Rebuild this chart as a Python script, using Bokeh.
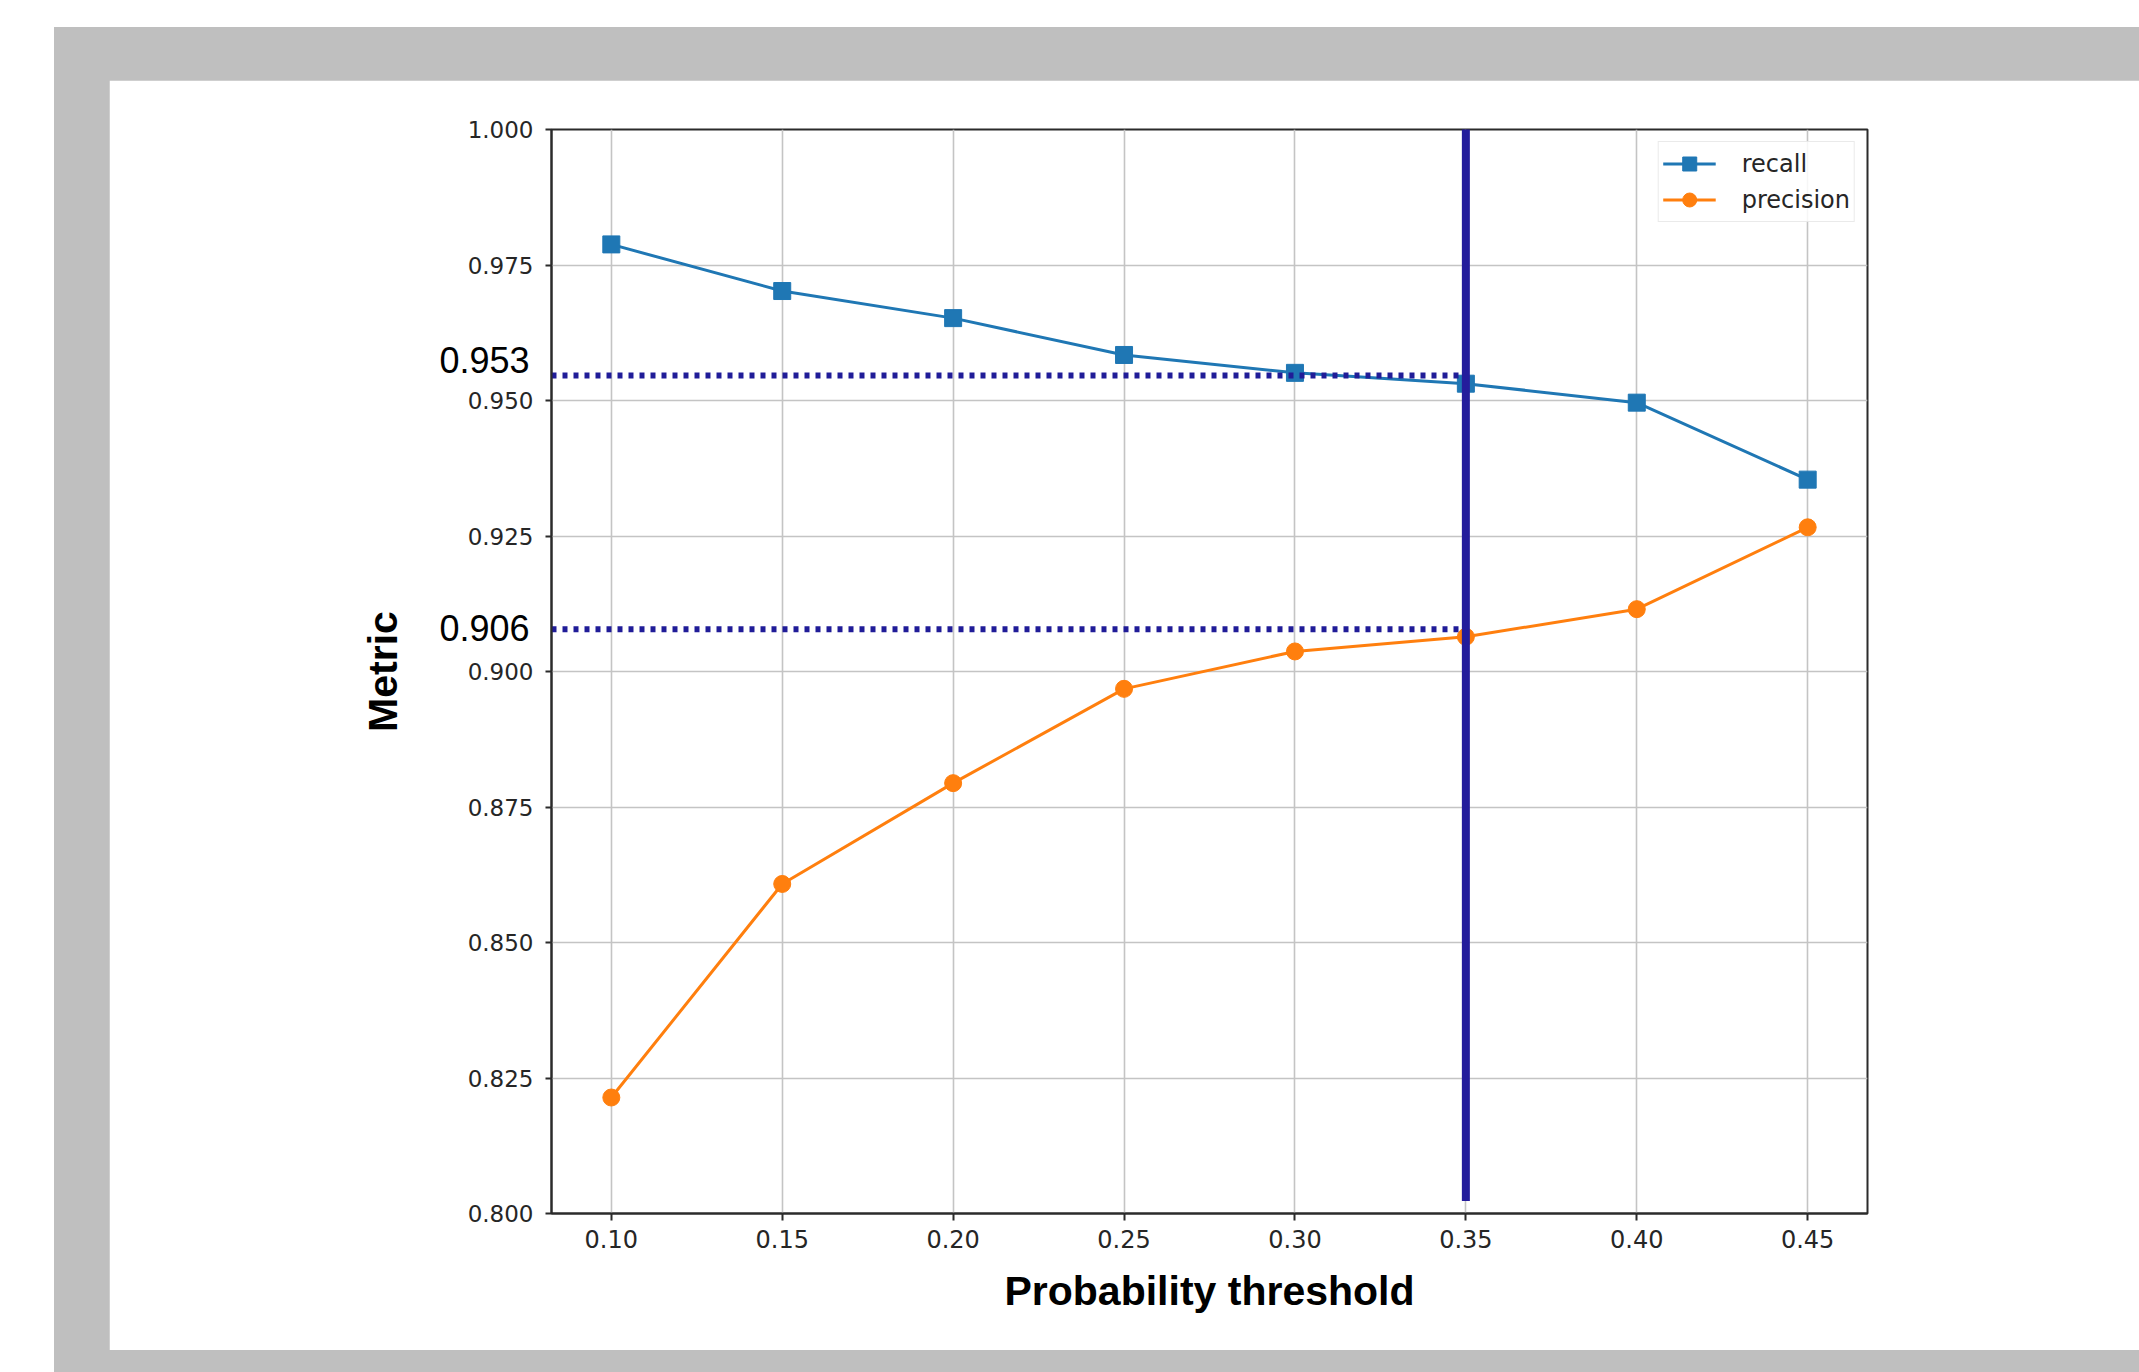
from bokeh.plotting import figure
from bokeh.models import (Range1d, FixedTicker, NumeralTickFormatter, LinearAxis, Arrow, Column)
from bokeh.embed import file_html
from bokeh.resources import INLINE

# ---------------- data ----------------
thresholds = [0.10, 0.15, 0.20, 0.25, 0.30, 0.35, 0.40, 0.45]
recall = [0.9788, 0.9702, 0.9652, 0.9584, 0.9551, 0.9531, 0.9496, 0.9354]
precision = [0.8214, 0.8608, 0.8794, 0.8968, 0.9037, 0.9064, 0.9115, 0.9266]

x_ticks = [0.10, 0.15, 0.20, 0.25, 0.30, 0.35, 0.40, 0.45]
y_ticks = [0.800, 0.825, 0.850, 0.875, 0.900, 0.925, 0.950, 0.975, 1.000]

chosen_threshold = 0.35
ref_levels = [0.9546, 0.9078]          # dotted guide lines
ref_labels = ["0.953", "0.906"]        # annotated values
ref_label_pos = [0.9574, 0.9081]       # where the annotation texts sit
vline_bottom, vline_top = 0.8023, 1.0016

x_start, x_end = 0.0825, 0.4675
y_start, y_end = 0.80, 1.00

# ---------------- figure ----------------
W, H = 2030, 1270
p = figure(width=W, height=H, output_backend="svg", toolbar_location=None,
           x_range=Range1d(x_start, x_end), y_range=Range1d(y_start, y_end),
           min_border_left=442, min_border_right=272, min_border_top=49,
           min_border_bottom=137, background_fill_color="white",
           border_fill_color="white")
p.margin = (53, 0, 22, 55)

p.outline_line_color = "#2b2b2b"
p.outline_line_width = 2

# grid
p.xgrid.ticker = FixedTicker(ticks=x_ticks)
p.ygrid.ticker = FixedTicker(ticks=y_ticks)
for g in (p.xgrid, p.ygrid):
    g.grid_line_color = "#c4c4c4"
    g.grid_line_width = 1.6

# axes
p.xaxis.ticker = FixedTicker(ticks=x_ticks)
p.yaxis.ticker = FixedTicker(ticks=y_ticks)
p.xaxis.formatter = NumeralTickFormatter(format="0.00")
p.yaxis.formatter = NumeralTickFormatter(format="0.000")
for ax in (p.xaxis[0], p.yaxis[0]):
    ax.axis_line_color = "#2b2b2b"
    ax.axis_line_width = 2
    ax.major_tick_line_color = "#2b2b2b"
    ax.major_tick_line_width = 2
    ax.major_tick_in = 0
    ax.minor_tick_line_color = None
    ax.major_label_text_font = "DejaVu Sans"
    ax.major_label_text_color = "#262626"
    ax.axis_label_text_font = "Liberation Sans"
    ax.axis_label_text_font_style = "bold"
    ax.axis_label_text_color = "black"
    ax.axis_label_text_font_size = "41px"

p.xaxis.major_tick_out = 7
p.xaxis.major_label_standoff = 9
p.xaxis.major_label_text_font_size = "24px"
p.xaxis.axis_label = "Probability threshold"
p.xaxis.axis_label_standoff = 17

p.yaxis.major_tick_out = 6
p.yaxis.major_label_standoff = 12
p.yaxis.major_label_text_font_size = "23px"
p.yaxis.axis_label = "Metric"
p.yaxis.axis_label_standoff = 59

# annotation texts for the guide values, as a second (line-less) left axis
ref_axis = LinearAxis(
    ticker=FixedTicker(ticks=ref_label_pos),
    major_label_overrides={pos: txt for pos, txt in zip(ref_label_pos, ref_labels)},
    axis_line_color=None, major_tick_line_color=None, minor_tick_line_color=None,
    major_tick_out=0, major_tick_in=0, major_label_standoff=-173,
    major_label_text_font="Liberation Sans", major_label_text_font_size="36px",
    major_label_text_color="black")
p.add_layout(ref_axis, "left")

# series
blue = "#1f77b4"
orange = "#ff7f0e"
p.line(thresholds, recall, line_color=blue, line_width=3, legend_label="recall")
p.scatter(thresholds, recall, marker="square", size=17, fill_color=blue,
          line_color=blue, legend_label="recall")
p.line(thresholds, precision, line_color=orange, line_width=3, legend_label="precision")
p.scatter(thresholds, precision, marker="circle", size=17, fill_color=orange,
          line_color=orange, legend_label="precision")

# reference dotted lines
navy = "#201c98"
p.segment(x0=[x_start] * len(ref_levels), y0=ref_levels,
          x1=[chosen_threshold] * len(ref_levels), y1=ref_levels,
          line_color=navy, line_width=6, line_dash="5 6")

# chosen threshold vertical line
p.add_layout(Arrow(end=None, x_start=chosen_threshold, y_start=vline_bottom,
                   x_end=chosen_threshold, y_end=vline_top,
                   line_color="#241c9c", line_width=8))

# legend
lg = p.legend[0]
lg.location = "top_right"
lg.margin = 12
lg.padding = 4
lg.spacing = 1
lg.glyph_width = 53
lg.glyph_height = 35
lg.label_standoff = 26
lg.label_text_font = "DejaVu Sans"
lg.label_text_font_size = "24px"
lg.label_text_color = "#262626"
lg.border_line_color = "#d6d6d6"
lg.border_line_width = 1.5
lg.background_fill_alpha = 0.85

layout = Column(children=[p], margin=(27, 0, 0, 54),
                styles={"background-color": "#bfbfbf"})

open("out.html", "w").write(file_html(layout, INLINE))
